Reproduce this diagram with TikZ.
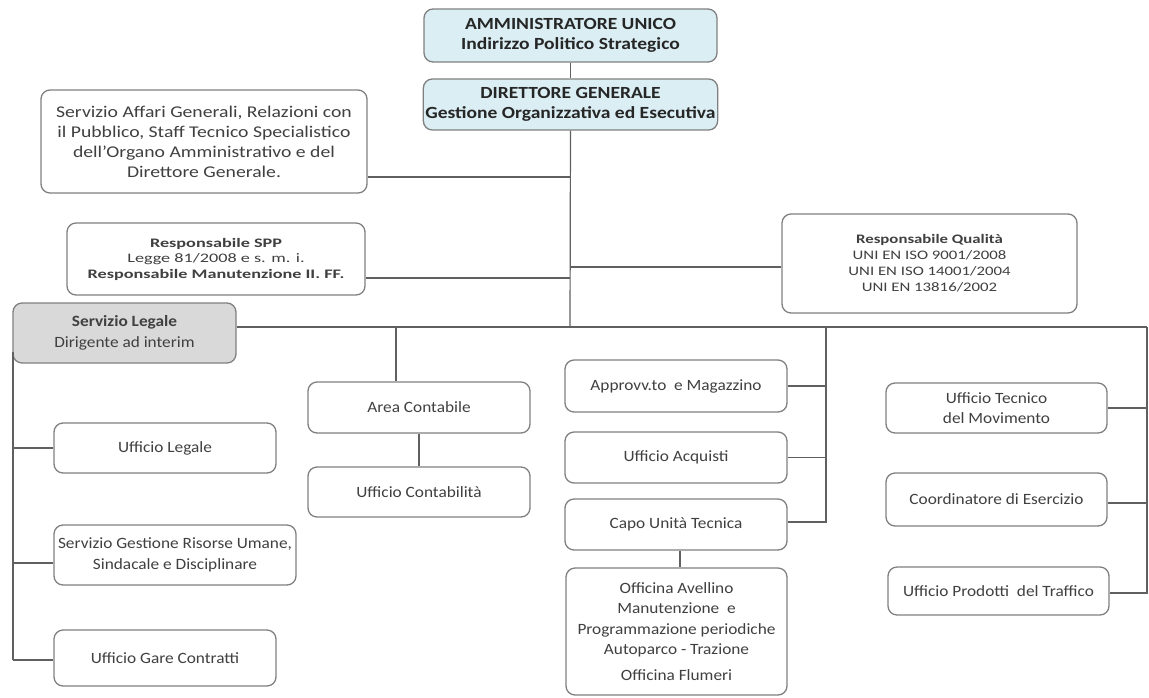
\documentclass[tikz,border=0pt]{standalone}
\usepackage{fontspec}
\setmainfont[FakeStretch=1.1]{Carlito}
\newfontfamily\topfont[FakeStretch=1.15]{Carlito}
\newfontfamily\stafffont[FakeStretch=1.2]{Carlito}
\newfontfamily\qualfont[FakeStretch=1.29]{Carlito}
\newfontfamily\sppfont[FakeStretch=1.4]{Carlito}
\usetikzlibrary{calc}
\definecolor{txt}{HTML}{404040}
\definecolor{bordc}{HTML}{808080}
\definecolor{topfill}{HTML}{DAEEF3}
\definecolor{slfill}{HTML}{D9D9D9}
\definecolor{linec}{HTML}{606060}
\begin{document}
\begin{tikzpicture}[x=1pt,y=-1pt,
  box/.style={draw=bordc, line width=1.3pt, rounded corners=9pt, align=center, text=txt, inner sep=2pt, font=\fontsize{15.7}{20.5}\selectfont},
  staffbox/.style={box, font=\stafffont\fontsize{16.4}{20}\selectfont},
  qualbox/.style={box, font=\qualfont\fontsize{13}{16}\selectfont},
  sppbox/.style={box, font=\sppfont\fontsize{13}{15.5}\selectfont},
  topbox/.style={box, fill=topfill, text=black!85, font=\topfont\fontsize{17}{19.5}\selectfont\bfseries},
  conn/.style={draw=linec, line width=1.2pt},
]
\useasboundingbox (0,0) rectangle (1149,697);
\fill[white] (0,0) rectangle (1149,697);

% top
\node[topbox, minimum width=293pt, minimum height=53pt] (au) at (570.5,35.5) {AMMINISTRATORE UNICO\\Indirizzo Politico Strategico};
\node[topbox, minimum width=293pt, minimum height=51pt] (dg) at (570.5,104.5) {DIRETTORE GENERALE\\Gestione Organizzativa ed Esecutiva};

% staff
\node[staffbox, minimum width=326pt, minimum height=103pt] (staff) at (204,141.5) {Servizio Affari Generali, Relazioni con\\il Pubblico, Staff Tecnico Specialistico\\dell’Organo Amministrativo e del\\Direttore Generale.};
\node[sppbox, minimum width=298pt, minimum height=72pt] (spp) at (216,259) {\textbf{Responsabile SPP}\\Legge 81/2008 e s. m. i.\\\textbf{Responsabile Manutenzione II. FF.}};
\node[qualbox, minimum width=295pt, minimum height=99pt] (qual) at (929.5,263.5) {\textbf{Responsabile Qualità}\\UNI EN ISO 9001/2008\\UNI EN ISO 14001/2004\\UNI EN 13816/2002};

% servizio legale
\node[box, fill=slfill, minimum width=223pt, minimum height=60pt] (sl) at (124.5,333) {\textbf{Servizio Legale}\\Dirigente ad interim};
\node[box, minimum width=222pt, minimum height=50pt] (ulegale) at (165,448) {Ufficio Legale};
\node[box, minimum width=242pt, minimum height=60pt] (sgru) at (175,555) {Servizio Gestione Risorse Umane,\\Sindacale e Disciplinare};
\node[box, minimum width=222pt, minimum height=56pt] (gare) at (165,658) {Ufficio Gare Contratti};

% area contabile
\node[box, minimum width=222pt, minimum height=51pt] (areac) at (419,407.5) {Area Contabile};
\node[box, minimum width=222pt, minimum height=50pt] (uconta) at (419,492) {Ufficio Contabilità};

% middle column
\node[box, minimum width=222pt, minimum height=52pt] (approv) at (676,386) {Approvv.to\ \ e Magazzino};
\node[box, minimum width=222pt, minimum height=51pt] (acq) at (676,457.5) {Ufficio Acquisti};
\node[box, minimum width=222pt, minimum height=51pt] (capo) at (676,524.5) {Capo Unità Tecnica};
\node[box, minimum width=221pt, minimum height=127pt] (offic) at (676.5,631.5) {Officina Avellino\\Manutenzione\ \ e\\Programmazione periodiche\\Autoparco - Trazione\\[5pt]Officina Flumeri};

% right column
\node[box, minimum width=221pt, minimum height=50pt] (utm) at (996.5,408) {Ufficio Tecnico\\del Movimento};
\node[box, minimum width=221pt, minimum height=53pt] (coord) at (996.5,499.5) {Coordinatore di Esercizio};
\node[box, minimum width=221pt, minimum height=48pt] (uprod) at (998.5,591) {Ufficio Prodotti\ \ del Traffico};

% junction coordinates
\coordinate (jmain) at (570,327);
\coordinate (jstaff) at (570,177);
\coordinate (jspp) at (570,278);
\coordinate (jqual) at (570,267);
\coordinate (jarea) at (396,327);
\coordinate (jmid) at (826,327);
\coordinate (jright) at (1147,327);
\coordinate (lbot) at (13,660);
\coordinate (lsgru) at (13,563);
\coordinate (lstart) at (13,352);
\coordinate (jcoord) at (1147,503);
\coordinate (midbot) at (826,522);
\coordinate (rbot) at (1147,593);
\coordinate (capox) at (680,0);

% connectors
\draw[conn] (au.south) -- (dg.north);
\draw[conn] (dg.south) -- (jmain);
\draw[conn] (staff.east |- jstaff) -- (jstaff);
\draw[conn] (spp.east |- jspp) -- (jspp);
\draw[conn] (jqual) -- (qual.west |- jqual);
\draw[conn] (sl.east |- jmain) -- (jright);
\draw[conn] (lstart) -- (lbot);
\draw[conn] (lbot |- ulegale.west) -- (ulegale.west);
\draw[conn] (lsgru) -- (sgru.west |- lsgru);
\draw[conn] (lbot) -- (gare.west |- lbot);
\draw[conn] (jarea) -- (areac.north -| jarea);
\draw[conn] (areac.south) -- (uconta.north);
\draw[conn] (jmid) -- (midbot) -- (capo.east |- midbot);
\draw[conn] (approv.east) -- (approv.east -| jmid);
\draw[conn] (acq.east) -- (acq.east -| jmid);
\draw[conn] (capo.south -| capox) -- (offic.north -| capox);
\draw[conn] (jright) -- (rbot) -- (uprod.east |- rbot);
\draw[conn] (utm.east) -- (utm.east -| jright);
\draw[conn] (coord.east |- jcoord) -- (jcoord);
\end{tikzpicture}
\end{document}
